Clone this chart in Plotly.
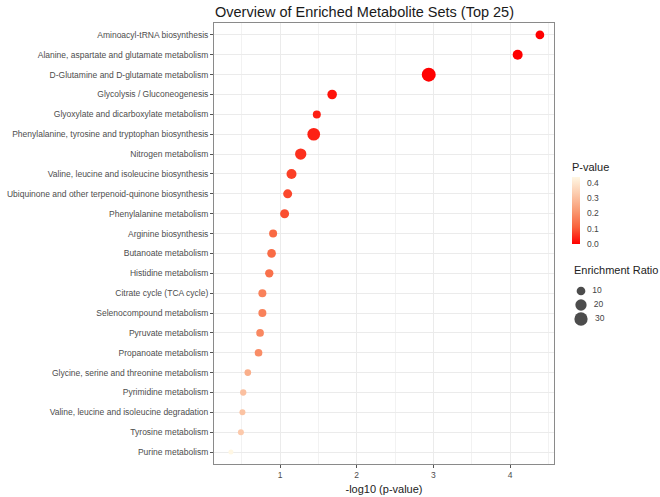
import plotly.graph_objects as go

# ---- data ----
pathways = [
    "Aminoacyl-tRNA biosynthesis",
    "Alanine, aspartate and glutamate metabolism",
    "D-Glutamine and D-glutamate metabolism",
    "Glycolysis / Gluconeogenesis",
    "Glyoxylate and dicarboxylate metabolism",
    "Phenylalanine, tyrosine and tryptophan biosynthesis",
    "Nitrogen metabolism",
    "Valine, leucine and isoleucine biosynthesis",
    "Ubiquinone and other terpenoid-quinone biosynthesis",
    "Phenylalanine metabolism",
    "Arginine biosynthesis",
    "Butanoate metabolism",
    "Histidine metabolism",
    "Citrate cycle (TCA cycle)",
    "Selenocompound metabolism",
    "Pyruvate metabolism",
    "Propanoate metabolism",
    "Glycine, serine and threonine metabolism",
    "Pyrimidine metabolism",
    "Valine, leucine and isoleucine degradation",
    "Tyrosine metabolism",
    "Purine metabolism",
]
neg_log10_p = [4.39, 4.10, 2.94, 1.68, 1.48, 1.44, 1.27, 1.15, 1.10, 1.06, 0.91,
               0.89, 0.86, 0.77, 0.77, 0.74, 0.72, 0.58, 0.52, 0.51, 0.49, 0.36]
enrichment_ratio = [10.0, 14.6, 34.0, 13.0, 7.9, 26.9, 20.0, 14.6, 11.0, 11.0, 7.9,
                    10.0, 8.8, 7.9, 7.9, 7.0, 7.0, 4.6, 3.8, 3.2, 3.2, 1.7]
size_legend_values = [10, 20, 30]
p_ticks = [0.0, 0.1, 0.2, 0.3, 0.4]

p_values = [10 ** (-v) for v in neg_log10_p]


def size_scale(v):
    # diameter linear in sqrt(value), like an area scale
    return 2.44 + 1.98 * v ** 0.5


FONT = "Liberation Sans, Arial, sans-serif"
colorscale = [[0.0, "#FF0000"], [0.25, "#F9623C"], [0.5, "#F99B74"],
              [0.75, "#FCCBAD"], [1.0, "#FFF7E4"]]

# layout geometry (pixels)
W, H = 660, 497
ML, MT, MB = 214, 23, 33
PW, PH = W - ML, H - MT - MB          # paper area (right margin 0)
PANEL_R = 554                          # right edge of main panel


def px_x(x):
    return (x - ML) / PW


def px_y(y):
    return (H - MB - y) / PH


fig = go.Figure()
fig.add_trace(go.Scatter(
    x=neg_log10_p, y=pathways, mode="markers", showlegend=False,
    hoverinfo="x+y",
    marker=dict(
        size=[size_scale(v) for v in enrichment_ratio],
        color=p_values, colorscale=colorscale, cmin=0, cmax=max(p_values),
        line=dict(width=0), opacity=1,
        colorbar=dict(
            title=dict(text="P-value", side="top", font=dict(size=11, color="#222", family=FONT)),
            thickness=8, len=84, lenmode="pixels",
            x=px_x(572), xanchor="left", xpad=0,
            y=px_y(160), yanchor="top", ypad=0,
            outlinewidth=0, ticks="", tickvals=p_ticks,
            ticktext=[f"  {t:.1f}" for t in p_ticks],
            tickfont=dict(size=8.5, color="#444", family=FONT),
        ),
    ),
))

# size legend drawn on a tiny auxiliary axis
fig.add_trace(go.Scatter(
    x=[0] * len(size_legend_values), y=[str(v) for v in size_legend_values],
    mode="markers+text", showlegend=False, hoverinfo="skip",
    text=[f"  {v}" for v in size_legend_values], textposition="middle right",
    textfont=dict(size=8.5, color="#444", family=FONT),
    marker=dict(size=[size_scale(v) for v in size_legend_values], color="black",
                line=dict(width=0)),
    xaxis="x2", yaxis="y2",
))

fig.update_layout(
    width=W, height=H,
    margin=dict(l=ML, r=0, t=MT, b=MB, autoexpand=False),
    paper_bgcolor="white", plot_bgcolor="white",
    font=dict(family=FONT, color="#4D4D4D"),
    showlegend=False,
    title=dict(text="Overview of Enriched Metabolite Sets (Top 25)",
               x=215 / W, xanchor="left",
               y=1 - 12 / H, yanchor="middle", yref="container",
               font=dict(size=14.5, color="#1a1a1a", family=FONT)),
    xaxis=dict(
        domain=[0, px_x(PANEL_R)],
        range=[0.139, 4.574], tick0=0, dtick=1,
        showgrid=True, gridcolor="#EBEBEB", gridwidth=1,
        minor=dict(dtick=0.5, showgrid=True, gridcolor="#F2F2F2", gridwidth=0.8, ticks=""),
        zeroline=False, showline=True, linecolor="#8a8a8a", linewidth=1, mirror=True,
        ticks="outside", ticklen=3, tickcolor="#555", tickwidth=1,
        tickfont=dict(size=8.5, color="#4D4D4D"),
        title=dict(text="-log10 (p-value)", font=dict(size=11, color="#222"), standoff=6),
        automargin=False,
    ),
    yaxis=dict(
        categoryorder="array", categoryarray=list(reversed(pathways)),
        range=[-0.6, len(pathways) - 0.4],
        showgrid=True, gridcolor="#EBEBEB", gridwidth=1,
        zeroline=False, showline=True, linecolor="#8a8a8a", linewidth=1, mirror=True,
        ticks="outside", ticklen=3, tickcolor="#555", tickwidth=1,
        tickfont=dict(size=8.5, color="#4D4D4D"),
        automargin=False,
    ),
    xaxis2=dict(domain=[px_x(571), px_x(611)], range=[-1, 3], visible=False,
                fixedrange=True),
    yaxis2=dict(domain=[px_y(326), px_y(284)], range=[2.5, -0.5], visible=False,
                categoryorder="array", categoryarray=[str(v) for v in size_legend_values],
                fixedrange=True),
    annotations=[dict(
        text="Enrichment Ratio", xref="paper", yref="paper",
        x=px_x(572), y=px_y(270), xanchor="left", yanchor="middle",
        showarrow=False, font=dict(size=11, color="#222", family=FONT),
    )],
)

fig.write_html(
    "out.html",
    config={"displayModeBar": False},
    post_script="document.body.style.margin='0px';document.body.style.overflow='hidden';",
)
